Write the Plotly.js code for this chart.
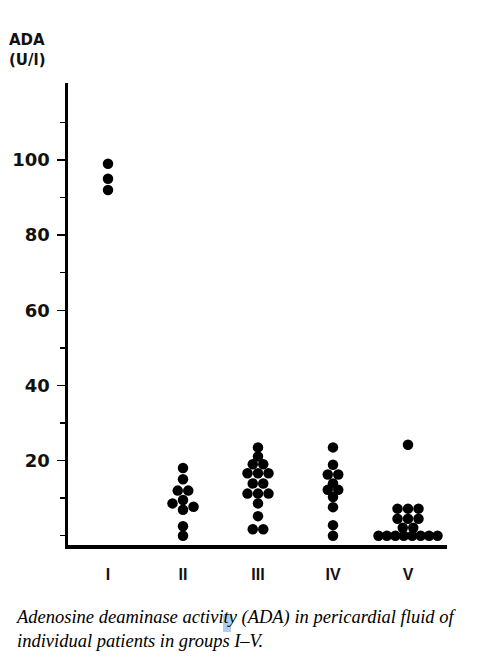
<!DOCTYPE html>
<html>
<head>
<meta charset="utf-8">
<script src="https://cdn.plot.ly/plotly-3.0.1.min.js"></script>
<style>html,body{margin:0;padding:0;background:#fff;}#chart{width:483px;height:663px;}</style>
</head>
<body>
<div id="chart"></div>
<script>
// ---- data ----
const groups = ['I', 'II', 'III', 'IV', 'V'];
const adaI = [99, 95, 92];
const adaII = [18, 15, 12, 12, 9.5, 8.6, 7.7, 6.9, 2.5, 0];
const adaIII = [23.5, 21.1, 19, 19, 16.6, 16.6, 16.6, 13.9, 13.9, 11.2, 11.2, 11.2, 8.6, 5.2, 1.7, 1.7];
const adaIV = [23.5, 18.9, 16.3, 16.3, 13.9, 12.2, 12.2, 10.3, 7.6, 2.8, 0];
const adaV = [24.2, 7.2, 7.2, 7.2, 4.5, 4.5, 4.5, 2.1, 2.1, 0, 0, 0, 0, 0, 0, 0, 0];
const yTickVals = [20, 40, 60, 80, 100];
const yTickText = ['20', '40', '60', '80', '100'];
const yMinorVals = [0, 10, 30, 50, 70, 90, 110];
const yTitle = 'ADA<br>(U/l)';
const caption = 'Adenosine deaminase activity (ADA) in pericardial fluid of<br>individual patients in groups I\u2013V.';

// ---- layout geometry ----
const W = 483, H = 663;
const M = {l: 68, r: 36, t: 83, b: 118};
const plotW = W - M.l - M.r, plotH = H - M.t - M.b;
const xRange = [0.4667, 0.4667 + plotW / 75];
const yRange = [-2.48, 120.5];
const pxPerX = plotW / (xRange[1] - xRange[0]);
const pxPerY = plotH / (yRange[1] - yRange[0]);
const DOT = 10.5;

// simple row-based dot-plot layout: equal values share a centred row,
// rows that collide with already placed dots are shifted sideways
function swarm(vals) {
  const idx = vals.map((v, i) => i).sort((a, b) => vals[b] - vals[a]);
  const rows = [];
  idx.forEach(i => {
    const last = rows[rows.length - 1];
    if (last && Math.abs(vals[last[0]] - vals[i]) < 0.25) last.push(i);
    else rows.push([i]);
  });
  const placed = [];
  const off = new Array(vals.length).fill(0);
  const shifts = [0, -DOT, DOT, -2 * DOT, 2 * DOT];
  rows.forEach(r => {
    const n = r.length;
    const s = n > 1 ? Math.min(DOT, 59 / (n - 1)) : 0;
    const base = r.map((_, k) => (k - (n - 1) / 2) * s);
    for (const sh of shifts) {
      const ok = r.every((i, k) => placed.every(p => {
        const dx = base[k] + sh - p.x, dy = (vals[i] - p.v) * pxPerY;
        return Math.hypot(dx, dy) >= 0.7 * DOT;
      }));
      if (ok || sh === shifts[shifts.length - 1]) {
        r.forEach((i, k) => { off[i] = base[k] + sh; placed.push({x: base[k] + sh, v: vals[i]}); });
        break;
      }
    }
  });
  return off.map(o => o / pxPerX);
}

const series = [adaI, adaII, adaIII, adaIV, adaV];
const traces = series.map((vals, g) => {
  const offs = swarm(vals);
  return {
    type: 'scatter', mode: 'markers',
    x: vals.map((v, i) => g + 1 + offs[i]),
    y: vals,
    marker: {size: DOT, color: '#000', line: {width: 0}},
    hoverinfo: 'skip', showlegend: false
  };
});

const pxX = px => (px - M.l) / plotW;
const pxY = py => (H - M.b - py) / plotH;

const layout = {
  width: W, height: H,
  margin: M,
  paper_bgcolor: '#fff', plot_bgcolor: '#fff',
  showlegend: false,
  xaxis: {
    range: xRange, showgrid: false, zeroline: false,
    showline: true, linecolor: '#000', linewidth: 4,
    tickmode: 'array', tickvals: groups.map((g, i) => i + 1), ticktext: groups,
    ticks: '', ticklabelstandoff: 12,
    tickfont: {family: 'Liberation Sans, Arial, sans-serif', size: 16, weight: 'bold', color: '#111'},
    fixedrange: true
  },
  yaxis: {
    range: yRange, showgrid: false, zeroline: false,
    showline: true, linecolor: '#000', linewidth: 3.5,
    tickmode: 'array', tickvals: yTickVals, ticktext: yTickText,
    ticks: 'outside', ticklen: 8, tickwidth: 1.5, tickcolor: '#000',
    ticklabelstandoff: 3,
    tickfont: {family: 'DejaVu Sans, sans-serif', size: 18, weight: 'bold', color: '#111'},
    minor: {tickmode: 'array', tickvals: yMinorVals, ticks: 'outside', ticklen: 5, tickwidth: 1.5, tickcolor: '#000', showgrid: false},
    fixedrange: true
  },
  annotations: [
    {text: yTitle, xref: 'paper', yref: 'paper', x: pxX(7), y: pxY(29), xanchor: 'left', yanchor: 'top',
     align: 'left', showarrow: false,
     font: {family: 'DejaVu Sans, sans-serif', size: 15, weight: 'bold', color: '#111'}},
    {text: caption, xref: 'paper', yref: 'paper', x: pxX(13), y: pxY(605), xanchor: 'left', yanchor: 'top',
     align: 'left', showarrow: false,
     font: {family: 'Liberation Serif, Times New Roman, serif', size: 18.5, style: 'italic', color: '#000'}}
  ],
  shapes: [
    {type: 'rect', xref: 'paper', yref: 'paper', layer: 'below',
     x0: pxX(223), x1: pxX(231), y0: pxY(632), y1: pxY(615),
     fillcolor: 'rgba(110,165,230,0.55)', line: {width: 0}}
  ]
};

Plotly.newPlot('chart', traces, layout, {staticPlot: true, displayModeBar: false});
</script>
</body>
</html>
